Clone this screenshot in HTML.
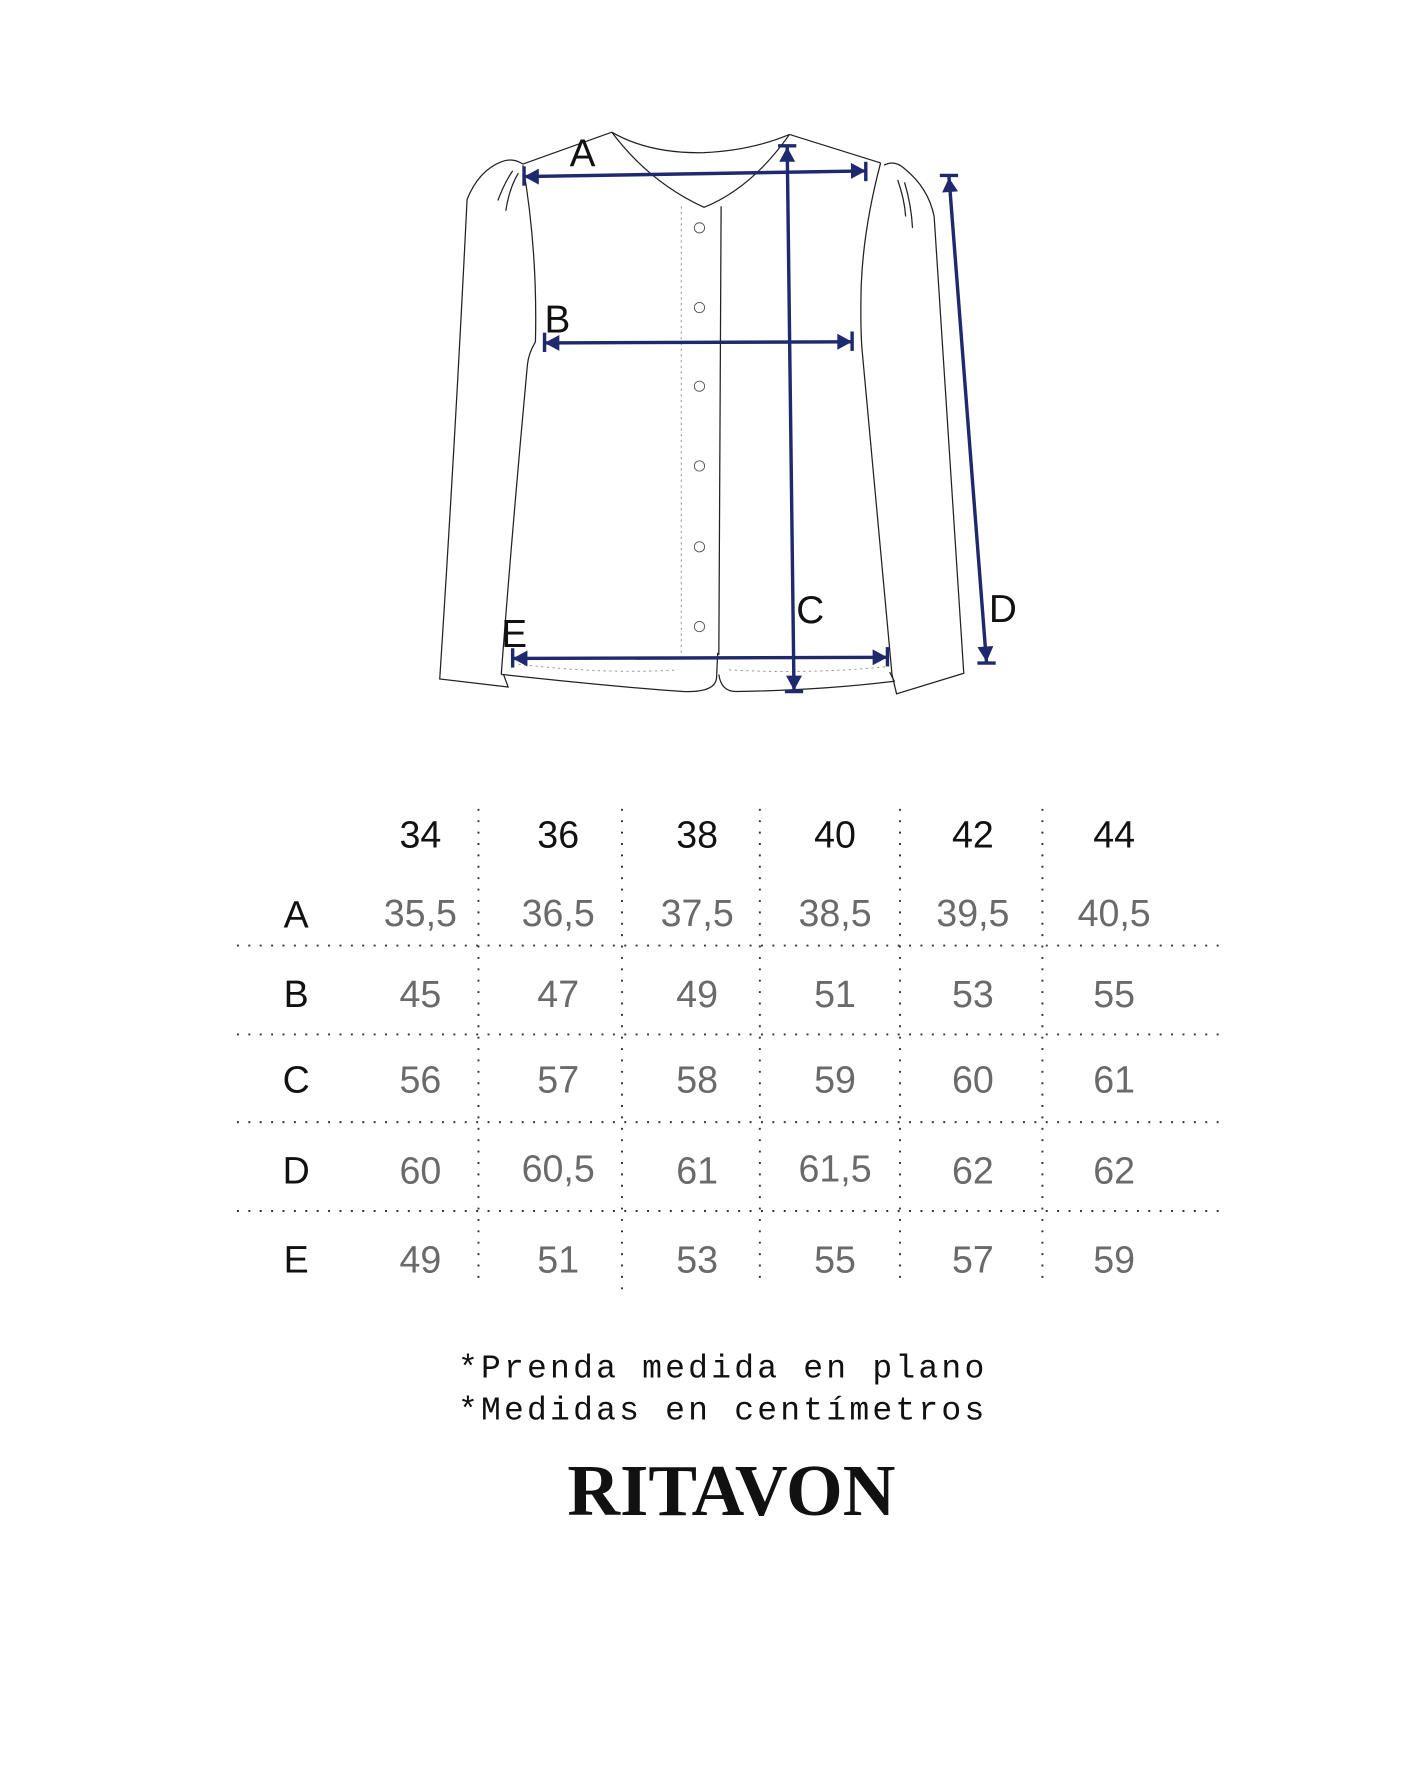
<!DOCTYPE html>
<html><head><meta charset="utf-8"><style>
html,body{margin:0;padding:0;background:#fff;}
svg{display:block;}
.o{fill:none;stroke:#222;stroke-width:1.1;}
.n{stroke:#1f2a6e;stroke-width:3;fill:none;}
.nf{fill:#1f2a6e;}
.lab{font-family:"Liberation Sans",sans-serif;font-size:34px;fill:#111;}
.hd{font-family:"Liberation Sans",sans-serif;font-size:33px;fill:#111;text-anchor:middle;}
.rl{font-family:"Liberation Sans",sans-serif;font-size:33px;fill:#111;text-anchor:middle;}
.v{font-family:"Liberation Sans",sans-serif;font-size:33px;fill:#6a6a6a;text-anchor:middle;}
.dl{stroke:#333;stroke-width:1.7;stroke-dasharray:1.7 8.3;fill:none;}
</style></head><body>
<svg width="1424" height="1792" viewBox="0 0 1250 1573" xmlns="http://www.w3.org/2000/svg">
<rect width="1250" height="1573" fill="#fff"/>
<g class="o">
<path d="M537,116 Q570,135 618,134 Q660,132 693,118"/>
<path d="M537,116 Q570,160 618,182 Q660,165 693,118"/>
<path d="M537,116 L459,144"/>
<path d="M693,118 L773,143"/>
<path d="M459,144 Q450,138 440,142 Q420,150 410,175 Q400,380 386,596 L446,603 L442,592"/>
<path d="M437,176 Q443,160 450,150"/><path d="M444,185 Q447,165 455,152"/>
<path d="M459,145 Q472,220 470,300 Q464,310 463,320 Q450,460 440,592"/>
<path d="M440,592 Q540,603 600,607 Q628,608 629,595 L630,573"/>
<path d="M631,592 Q633,607 646,607 Q720,606 785,598 L781,590"/>
<path d="M773,143 Q758,200 756,250 Q755,290 757,310 Q770,450 783,592"/>
<path d="M776,145 Q785,140 794,148 Q815,165 820,190 Q834,400 846,591 L787,609 L783,592"/>
<path d="M794,160 Q800,180 801,200"/><path d="M788,158 Q794,175 795,190"/>
<path d="M633,181 L631,575"/>
<path d="M598,181 L598,573" stroke="#999" stroke-width="0.9" stroke-dasharray="2 3"/>
<path d="M455,583 Q530,592 595,588" stroke="#999" stroke-width="0.9" stroke-dasharray="2 3"/>
<path d="M640,588 Q710,592 780,585" stroke="#999" stroke-width="0.9" stroke-dasharray="2 3"/>
</g>
<g fill="none" stroke="#555" stroke-width="0.8">
<circle cx="614" cy="200" r="4.5"/><circle cx="614" cy="270" r="4.5"/><circle cx="614" cy="339" r="4.5"/>
<circle cx="614" cy="409" r="4.5"/><circle cx="614" cy="480" r="4.5"/><circle cx="614" cy="550" r="4.5"/>
</g>
<g>
<line class="n" x1="460" y1="155" x2="760" y2="150"/>
<line class="n" x1="460" y1="146" x2="460" y2="163"/><polygon class="nf" points="460,155 473,148 473,162"/>
<line class="n" x1="760" y1="142" x2="760" y2="159"/><polygon class="nf" points="760,150 747,143 747,157"/>
<line class="n" x1="478" y1="301" x2="748" y2="300"/>
<line class="n" x1="478" y1="292" x2="478" y2="309"/><polygon class="nf" points="478,301 491,294 491,308"/>
<line class="n" x1="748" y1="291" x2="748" y2="308"/><polygon class="nf" points="748,300 735,293 735,307"/>
<line class="n" x1="691" y1="128" x2="697" y2="607"/>
<line class="n" x1="683" y1="128" x2="699" y2="128"/><polygon class="nf" points="691,129 684,142 698,142"/>
<line class="n" x1="689" y1="607" x2="705" y2="607"/><polygon class="nf" points="697,606 690,593 704,593"/>
<line class="n" x1="833" y1="155" x2="866" y2="582"/>
<line class="n" x1="825" y1="154" x2="841" y2="154"/><polygon class="nf" points="833,156 827,169 841,168"/>
<line class="n" x1="858" y1="582" x2="874" y2="582"/><polygon class="nf" points="866,581 858,568 872,567"/>
<line class="n" x1="450" y1="578" x2="779" y2="577"/>
<line class="n" x1="450" y1="569" x2="450" y2="586"/><polygon class="nf" points="450,578 463,571 463,585"/>
<line class="n" x1="779" y1="568" x2="779" y2="585"/><polygon class="nf" points="779,577 766,570 766,584"/>
</g>
<text class="lab" x="500" y="146">A</text>
<text class="lab" x="478" y="292">B</text>
<text class="lab" x="699" y="547">C</text>
<text class="lab" x="868" y="546">D</text>
<text class="lab" x="440" y="568">E</text>
<g class="dl">
<line x1="208" y1="830" x2="1070" y2="830"/>
<line x1="208" y1="908" x2="1070" y2="908"/>
<line x1="208" y1="985" x2="1070" y2="985"/>
<line x1="208" y1="1063" x2="1070" y2="1063"/>
<line x1="420" y1="710" x2="420" y2="1122"/>
<line x1="546" y1="710" x2="546" y2="1132"/>
<line x1="667" y1="710" x2="667" y2="1122"/>
<line x1="790" y1="710" x2="790" y2="1122"/>
<line x1="915" y1="710" x2="915" y2="1122"/>
</g>
<g>
<text class="hd" x="369" y="744">34</text><text class="hd" x="490" y="744">36</text><text class="hd" x="612" y="744">38</text>
<text class="hd" x="733" y="744">40</text><text class="hd" x="854" y="744">42</text><text class="hd" x="978" y="744">44</text>
<text class="rl" x="260" y="814">A</text><text class="rl" x="260" y="884">B</text><text class="rl" x="260" y="959">C</text>
<text class="rl" x="260" y="1039">D</text><text class="rl" x="260" y="1117">E</text>
<text class="v" x="369" y="813">35,5</text><text class="v" x="490" y="813">36,5</text><text class="v" x="612" y="813">37,5</text>
<text class="v" x="733" y="813">38,5</text><text class="v" x="854" y="813">39,5</text><text class="v" x="978" y="813">40,5</text>
<text class="v" x="369" y="884">45</text><text class="v" x="490" y="884">47</text><text class="v" x="612" y="884">49</text>
<text class="v" x="733" y="884">51</text><text class="v" x="854" y="884">53</text><text class="v" x="978" y="884">55</text>
<text class="v" x="369" y="959">56</text><text class="v" x="490" y="959">57</text><text class="v" x="612" y="959">58</text>
<text class="v" x="733" y="959">59</text><text class="v" x="854" y="959">60</text><text class="v" x="978" y="959">61</text>
<text class="v" x="369" y="1039">60</text><text class="v" x="490" y="1037">60,5</text><text class="v" x="612" y="1039">61</text>
<text class="v" x="733" y="1037">61,5</text><text class="v" x="854" y="1039">62</text><text class="v" x="978" y="1039">62</text>
<text class="v" x="369" y="1117">49</text><text class="v" x="490" y="1117">51</text><text class="v" x="612" y="1117">53</text>
<text class="v" x="733" y="1117">55</text><text class="v" x="854" y="1117">57</text><text class="v" x="978" y="1117">59</text>
</g>
<text x="402" y="1209" font-family="Liberation Mono, monospace" font-size="29" fill="#111" textLength="462" lengthAdjust="spacing">*Prenda medida en plano</text>
<text x="402" y="1246" font-family="Liberation Mono, monospace" font-size="29" fill="#111" textLength="462" lengthAdjust="spacing">*Medidas en centímetros</text>
<text x="498" y="1330" font-family="Liberation Serif, serif" font-size="64" font-weight="bold" fill="#111" textLength="288" lengthAdjust="spacingAndGlyphs">RITAVON</text>
</svg>
</body></html>
